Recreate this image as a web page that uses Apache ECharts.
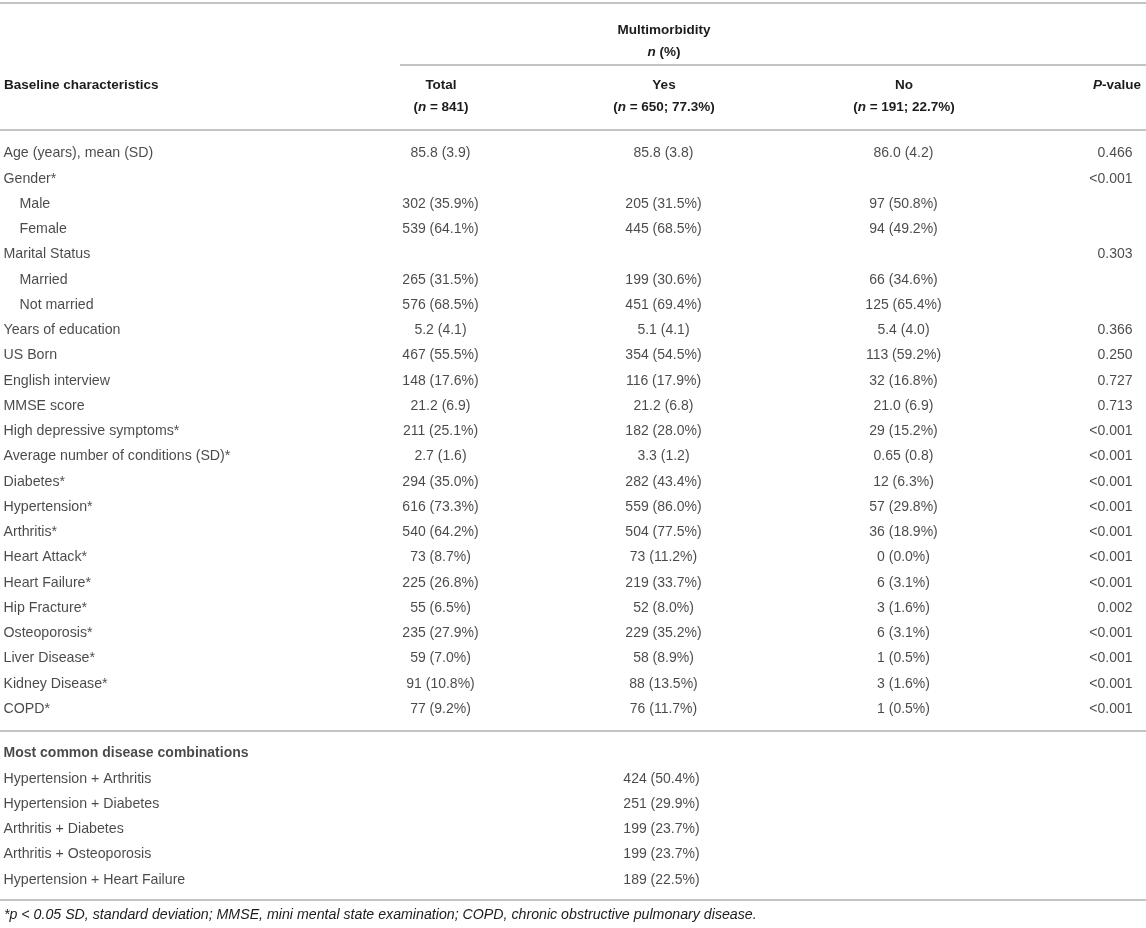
<!DOCTYPE html>
<html>
<head>
<meta charset="utf-8" />
<title>Multimorbidity baseline characteristics</title>
<script src="https://cdn.jsdelivr.net/npm/echarts@6/dist/echarts.min.js"></script>
<style>
	html, body { margin: 0; padding: 0; background: #fff; }
	#main { width: 1146px; height: 928px; }
</style>
</head>
<body>
<div id="main"></div>
<script type="text/javascript">
// ---- table data ----
var rowLabels = ['Age (years), mean (SD)', 'Gender*', 'Male', 'Female', 'Marital Status', 'Married', 'Not married',
	'Years of education', 'US Born', 'English interview', 'MMSE score', 'High depressive symptoms*',
	'Average number of conditions (SD)*', 'Diabetes*', 'Hypertension*', 'Arthritis*', 'Heart Attack*',
	'Heart Failure*', 'Hip Fracture*', 'Osteoporosis*', 'Liver Disease*', 'Kidney Disease*', 'COPD*'];
var subRows = ['Male', 'Female', 'Married', 'Not married'];

var totalCol = ['85.8 (3.9)', '', '302 (35.9%)', '539 (64.1%)', '', '265 (31.5%)', '576 (68.5%)', '5.2 (4.1)',
	'467 (55.5%)', '148 (17.6%)', '21.2 (6.9)', '211 (25.1%)', '2.7 (1.6)', '294 (35.0%)', '616 (73.3%)',
	'540 (64.2%)', '73 (8.7%)', '225 (26.8%)', '55 (6.5%)', '235 (27.9%)', '59 (7.0%)', '91 (10.8%)', '77 (9.2%)'];
var yesCol = ['85.8 (3.8)', '', '205 (31.5%)', '445 (68.5%)', '', '199 (30.6%)', '451 (69.4%)', '5.1 (4.1)',
	'354 (54.5%)', '116 (17.9%)', '21.2 (6.8)', '182 (28.0%)', '3.3 (1.2)', '282 (43.4%)', '559 (86.0%)',
	'504 (77.5%)', '73 (11.2%)', '219 (33.7%)', '52 (8.0%)', '229 (35.2%)', '58 (8.9%)', '88 (13.5%)', '76 (11.7%)'];
var noCol = ['86.0 (4.2)', '', '97 (50.8%)', '94 (49.2%)', '', '66 (34.6%)', '125 (65.4%)', '5.4 (4.0)',
	'113 (59.2%)', '32 (16.8%)', '21.0 (6.9)', '29 (15.2%)', '0.65 (0.8)', '12 (6.3%)', '57 (29.8%)',
	'36 (18.9%)', '0 (0.0%)', '6 (3.1%)', '3 (1.6%)', '6 (3.1%)', '1 (0.5%)', '3 (1.6%)', '1 (0.5%)'];
var pCol = ['0.466', '<0.001', '', '', '0.303', '', '', '0.366', '0.250', '0.727', '0.713', '<0.001',
	'<0.001', '<0.001', '<0.001', '<0.001', '<0.001', '<0.001', '0.002', '<0.001', '<0.001', '<0.001', '<0.001'];

var comboTitle = 'Most common disease combinations';
var comboLabels = ['Hypertension + Arthritis', 'Hypertension + Diabetes', 'Arthritis + Diabetes',
	'Arthritis + Osteoporosis', 'Hypertension + Heart Failure'];
var comboValues = ['424 (50.4%)', '251 (29.9%)', '199 (23.7%)', '199 (23.7%)', '189 (22.5%)'];

var groupTitle = 'Multimorbidity';
var headTitles = ['Total', 'Yes', 'No'];
var headNs = ['841', '650; 77.3%', '191; 22.7%'];
var footnote = 'p < 0.05 SD, standard deviation; MMSE, mini mental state examination; COPD, chronic obstructive pulmonary disease.';

// ---- layout ----
var W = 1146;
var FONT = 'Liberation Sans, Arial, Helvetica, sans-serif';
var FS_HEAD = 13.5;
var FS_LABEL = 14.2;
var FS_VAL = 14;
var INK = '#1c1c1c';
var RULE = '#b0b0b0';
var colX = { label: 4, indent: 20, total: 441, yes: 664, no: 904, p: 1133 };
var rowH = 25.25;

function cells(col, x, align, gridIdx, fs) {
	var out = [];
	for (var i = 0; i < col.length; i++) {
		if (col[i] === '') continue;
		out.push({ name: col[i], value: [x, i] });
	}
	return {
		type: 'scatter', xAxisIndex: gridIdx, yAxisIndex: gridIdx,
		symbol: 'circle', symbolSize: 1, silent: true,
		itemStyle: { color: 'transparent' },
		label: {
			show: true, position: [0, 0], align: align, verticalAlign: 'middle',
			formatter: '{b}', color: INK, fontFamily: FONT, fontSize: fs || FS_VAL
		},
		data: out
	};
}

var labelData = rowLabels.map(function (l, i) {
	return { name: l, value: [subRows.indexOf(l) >= 0 ? colX.indent : colX.label, i] };
});
var comboRows = [comboTitle].concat(comboLabels);
var comboLabelData = comboRows.map(function (l, i) {
	var item = { name: l, value: [colX.label, i] };
	if (i === 0) item.label = { fontWeight: 'bold', fontSize: 14 };
	return item;
});

function labelSeries(data, gridIdx) {
	var s = cells([], 0, 'left', gridIdx, FS_LABEL);
	s.data = data;
	return s;
}

var bodyTop = 154 - rowH / 2;
var comboTop = 754 - rowH / 2;

var boldRich = {
	b: { fontFamily: FONT, fontSize: FS_HEAD, fontWeight: 'bold', fill: INK, color: INK },
	bi: { fontFamily: FONT, fontSize: FS_HEAD, fontWeight: 'bold', fontStyle: 'italic', fill: INK, color: INK }
};

function headText(x, y, text, align) {
	return {
		type: 'text', x: x, y: y, silent: true,
		style: {
			text: text, rich: boldRich, fill: INK,
			font: 'bold ' + FS_HEAD + 'px ' + FONT,
			align: align, textAlign: align, verticalAlign: 'middle', textVerticalAlign: 'middle'
		}
	};
}
function rule(y, x1) {
	return {
		type: 'line', silent: true,
		shape: { x1: x1 || 0, y1: y, x2: W, y2: y },
		style: { stroke: RULE, lineWidth: 1.6 }
	};
}

var graphics = [
	rule(3), rule(65, 400), rule(130), rule(731), rule(900),
	headText(664, 30, '{b|' + groupTitle + '}', 'center'),
	headText(664, 52, '{bi|n}{b| (%)}', 'center'),
	headText(colX.label, 85, '{b|Baseline characteristics}', 'left'),
	headText(1141, 85, '{bi|P}{b|-value}', 'right'),
	{
		type: 'text', x: colX.label, y: 915, silent: true,
		style: {
			text: '*' + footnote, fill: INK,
			font: 'italic 14.2px ' + FONT,
			align: 'left', textAlign: 'left', verticalAlign: 'middle', textVerticalAlign: 'middle'
		}
	}
];
var headCols = [colX.total, colX.yes, colX.no];
headTitles.forEach(function (t, i) {
	graphics.push(headText(headCols[i], 85, '{b|' + t + '}', 'center'));
	graphics.push(headText(headCols[i], 107, '{b|(}{bi|n}{b| = ' + headNs[i] + ')}', 'center'));
});

var chart = echarts.init(document.getElementById('main'));
var option = {
	animation: false,
	backgroundColor: '#fff',
	grid: [
		{ left: 0, right: 0, top: bodyTop, height: rowH * rowLabels.length },
		{ left: 0, right: 0, top: comboTop, height: rowH * comboRows.length }
	],
	xAxis: [
		{ type: 'value', gridIndex: 0, min: 0, max: W, show: false },
		{ type: 'value', gridIndex: 1, min: 0, max: W, show: false }
	],
	yAxis: [
		{ type: 'category', gridIndex: 0, inverse: true, data: rowLabels, show: false },
		{ type: 'category', gridIndex: 1, inverse: true, data: comboRows, show: false }
	],
	series: [
		labelSeries(labelData, 0),
		cells(totalCol, colX.total, 'center', 0),
		cells(yesCol, colX.yes, 'center', 0),
		cells(noCol, colX.no, 'center', 0),
		cells(pCol, colX.p, 'right', 0),
		labelSeries(comboLabelData, 1),
		cells([''].concat(comboValues), colX.yes - 2, 'center', 1)
	],
	graphic: graphics
};
chart.setOption(option);
</script>
</body>
</html>
